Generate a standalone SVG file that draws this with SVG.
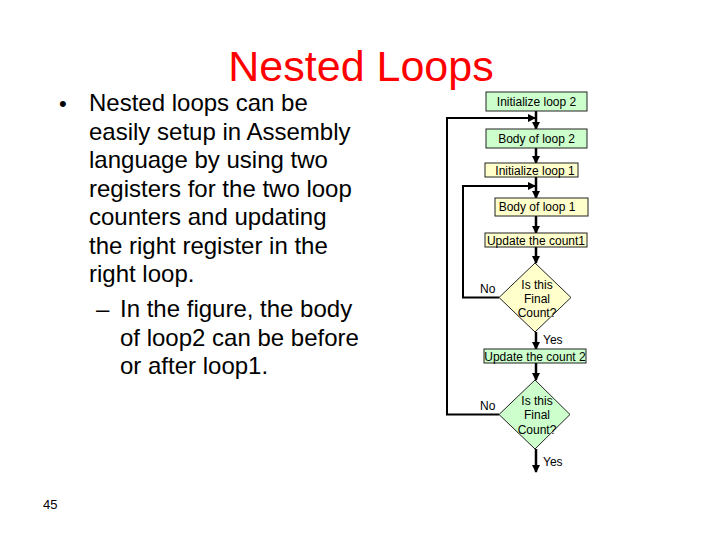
<svg xmlns="http://www.w3.org/2000/svg" width="720" height="540" viewBox="0 0 720 540">
<defs>
<style>
.t{font-family:"Liberation Sans",Arial,sans-serif;fill:#000}
.title{font-family:"Liberation Sans",Arial,sans-serif;fill:#ff0000;font-size:43px}
.body{font-size:24px}
.s{font-size:12px}
.g{fill:#ccffcc;stroke:#222;stroke-width:1}
.y{fill:#ffffcc;stroke:#222;stroke-width:1}
.c{fill:none;stroke:#000;stroke-width:2.5}
.l{fill:none;stroke:#000;stroke-width:2}
</style>
<marker id="ah" markerWidth="8" markerHeight="8" refX="7" refY="4" orient="auto" markerUnits="userSpaceOnUse">
<path d="M0,0 L8,4 L0,8 Z" fill="#000"/>
</marker>
</defs>
<rect width="720" height="540" fill="#fff"/>
<text class="title" x="361" y="81" text-anchor="middle">Nested Loops</text>
<g id="bullets" class="t body">
<text x="59" y="110.5" font-size="22">•</text>
<text x="89" y="111">Nested loops can be</text>
<text x="89" y="139.5">easily setup in Assembly</text>
<text x="89" y="168">language by using two</text>
<text x="89" y="196.5">registers for the two loop</text>
<text x="89" y="225">counters and updating</text>
<text x="89" y="253.5">the right register in the</text>
<text x="89" y="282">right loop.</text>
<text x="96" y="317">–</text>
<text x="120" y="317">In the figure, the body</text>
<text x="120" y="345.5">of loop2 can be before</text>
<text x="120" y="374">or after loop1.</text>
</g>
<text class="t" x="43" y="509" font-size="13">45</text>
<g id="connectors">
<line class="c" x1="536" y1="111" x2="536" y2="129" marker-end="url(#ah)"/>
<line class="c" x1="536" y1="148" x2="536" y2="163" marker-end="url(#ah)"/>
<line class="c" x1="536" y1="177" x2="536" y2="198" marker-end="url(#ah)"/>
<line class="c" x1="536" y1="216" x2="536" y2="233" marker-end="url(#ah)"/>
<line class="c" x1="536" y1="247" x2="536" y2="263" marker-end="url(#ah)"/>
<line class="c" x1="536" y1="332" x2="536" y2="349" marker-end="url(#ah)"/>
<line class="c" x1="536" y1="363" x2="536" y2="380" marker-end="url(#ah)"/>
<line class="c" x1="536" y1="449" x2="536" y2="472" marker-end="url(#ah)"/>
<polyline class="l" points="499,414.5 447,414.5 447,118 535,118" marker-end="url(#ah)"/>
<polyline class="l" points="499,297.5 463,297.5 463,186 535,186" marker-end="url(#ah)"/>
</g>
<g id="init2"><rect class="g" x="486" y="92" width="101" height="19"/><text class="t s" x="536.5" y="106" text-anchor="middle">Initialize loop 2</text></g>
<g id="body2"><rect class="g" x="486" y="129" width="101" height="19"/><text class="t s" x="536.5" y="143" text-anchor="middle">Body of loop 2</text></g>
<g id="init1"><rect class="y" x="485" y="163" width="93" height="14"/><text class="t s" x="535" y="175" text-anchor="middle">Initialize loop 1</text></g>
<g id="body1"><rect class="y" x="495" y="198" width="93" height="18"/><text class="t s" x="537" y="211" text-anchor="middle">Body of loop 1</text></g>
<g id="upd1"><rect class="y" x="485" y="233" width="102" height="14"/><text class="t s" x="536" y="244.5" text-anchor="middle">Update the count1</text></g>
<g id="dec1"><polygon class="y" points="535,263 571,297.5 535,332 499,297.5"/>
<text class="t s" x="537" y="289" text-anchor="middle">Is this</text>
<text class="t s" x="537" y="303" text-anchor="middle">Final</text>
<text class="t s" x="537" y="317" text-anchor="middle">Count?</text></g>
<text class="t s" x="480" y="293">No</text>
<text class="t s" x="543" y="344">Yes</text>
<g id="upd2"><rect class="g" x="484" y="349" width="102" height="14"/><text class="t s" x="535" y="360.5" text-anchor="middle">Update the count 2</text></g>
<g id="dec2"><polygon class="g" points="535,380 570,414.5 535,449 499,414.5"/>
<text class="t s" x="537" y="405" text-anchor="middle">Is this</text>
<text class="t s" x="537" y="419" text-anchor="middle">Final</text>
<text class="t s" x="537" y="434" text-anchor="middle">Count?</text></g>
<text class="t s" x="480" y="410">No</text>
<text class="t s" x="543" y="466">Yes</text>
</svg>
